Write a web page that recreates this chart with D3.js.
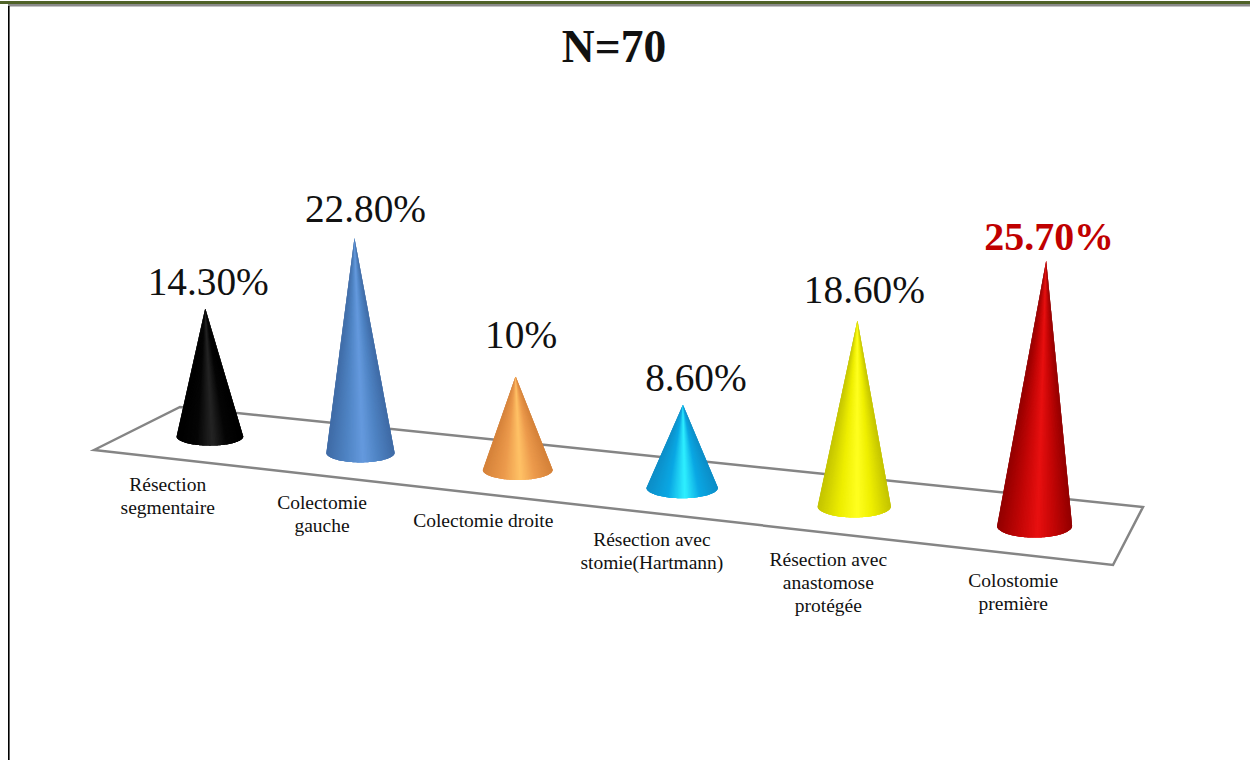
<!DOCTYPE html>
<html>
<head>
<meta charset="utf-8">
<script src="https://cdn.jsdelivr.net/npm/d3@7"></script>
<style>
html,body{margin:0;padding:0;background:#fff;overflow:hidden}
svg{display:block}
text{font-family:"Liberation Serif",serif}
</style>
</head>
<body>
<svg id="chart" width="1250" height="760"></svg>
<script>
const title = "N=70";
const categories = [
  ["Résection","segmentaire"],
  ["Colectomie","gauche"],
  ["Colectomie droite"],
  ["Résection avec","stomie(Hartmann)"],
  ["Résection avec","anastomose","protégée"],
  ["Colostomie","première"]
];
const values = [14.3, 22.8, 10, 8.6, 18.6, 25.7];
const valueLabels = ["14.30%","22.80%","10%","8.60%","18.60%","25.70%"];
const edgeColors = ["#000000","#3f6ba6","#d5823a","#0d8ec8","#c4c400","#930000"];
const bodyColors = ["#050505","#4f84c4","#ec9a4c","#0aa8e4","#eeee00","#c40606"];
const lightColors = ["#242424","#659ade","#ffc266","#2ff0ff","#ffff20","#e81010"];

const W = 1250, H = 760;
const svg = d3.select("#chart");

// Corners of the receding floor plane.
const floor = { fl:[94,450], bl:[180,407], br:[1143,507], fr:[1113,565] };

// Perspective foreshortening along the category axis.
const band = d3.scalePoint().domain(d3.range(categories.length)).range([0,1]).padding(0.5);
const persp = 1.145;
const along = i => { const u = band(i); return u / (u + persp * (1 - u)); };

const lerp = (a,b,t) => [a[0]+(b[0]-a[0])*t, a[1]+(b[1]-a[1])*t];
const midLeft = lerp(floor.fl, floor.bl, 0.5), midRight = lerp(floor.fr, floor.br, 0.5);

// Pixels per percentage point and tip lean change along the receding axis.
const unit = d3.scaleLinear().domain([0.07,0.225,0.38,0.55,0.72,0.9]).range([8.95,9.42,9.35,9.65,10,10.32]);
const lean = d3.scaleLinear().domain([0,0.225,0.45,0.72,1]).range([-4,-6,-0.5,3,16]);
const baseRx = d3.scaleLinear().domain([0,1]).range([33,38]);
const baseRy = d3.scaleLinear().domain([0,1]).range([9,12]);
const height = (v,t) => v * unit(t);

// Hand-placed offsets of the value labels above the tips.
const labelNudge = [[3,-26],[11,-29],[5.5,-41],[13,-27],[7,-30],[3,-24]];

// Page frame
svg.append("rect").attr("x",0).attr("y",1).attr("width",W).attr("height",3).attr("fill","#4f6228");
svg.append("rect").attr("x",8).attr("y",4).attr("width",W-8).attr("height",2.5).attr("fill","#8a8a8a");
svg.append("rect").attr("x",8).attr("y",6).attr("width",1.6).attr("height",H-6).attr("fill","#000");

svg.append("text").attr("x",614).attr("y",62).attr("text-anchor","middle")
  .attr("font-size",45.5).attr("font-weight","bold").attr("fill","#111").text(title);

// Floor outline
svg.append("path")
  .attr("d", d3.line()([floor.fl,floor.bl,floor.br,floor.fr]) + "Z")
  .attr("fill","#fff").attr("stroke","#858585").attr("stroke-width",2.5).attr("stroke-linejoin","miter");

const cones = values.map((v,i) => {
  const t = along(i);
  const c = lerp(midLeft, midRight, t);
  return { i, t, v, cx:c[0], cy:c[1], rx:baseRx(t), ry:baseRy(t),
           tx:c[0]+lean(t), ty:c[1]-height(v,t) };
});

// Each cone is a fan of wedges from the tip to the front arc of its base, so the
// highlight stripe converges at the tip. Wedges overlap the next few slots and are
// painted left to right, which keeps antialiased seams from showing.
const wedgeCount = 72, wedgeOverlap = 3;
const angle = d3.scaleLinear().domain([0,wedgeCount]).range([Math.PI,0]);
const coneGroups = svg.append("g").selectAll("g").data(cones).join("g");
coneGroups.each(function(d){
  const shade = d3.scaleLinear()
    .domain([-1,-0.4,0.08,0.5,1])
    .range([edgeColors[d.i],bodyColors[d.i],lightColors[d.i],bodyColors[d.i],edgeColors[d.i]])
    .interpolate(d3.interpolateRgb);
  const point = k => [d.cx + d.rx*Math.cos(angle(k)), d.cy + d.ry*Math.sin(angle(k))];
  d3.select(this).selectAll("path").data(d3.range(wedgeCount)).join("path")
    .attr("d", k => {
      const arc = d3.range(k, Math.min(k + wedgeOverlap, wedgeCount) + 1).map(point);
      return d3.line()([[d.tx,d.ty], ...arc]) + "Z";
    })
    .attr("fill", k => shade(Math.cos(angle(k+0.5))));
});

// Value labels
svg.append("g").selectAll("text").data(cones).join("text")
  .attr("x", d => d.tx + labelNudge[d.i][0])
  .attr("y", d => d.ty + labelNudge[d.i][1])
  .attr("dy","0.33em")
  .attr("text-anchor","middle")
  .attr("font-size", d => d.i === 5 ? 39.9 : 39.3)
  .attr("font-weight", d => d.i === 5 ? "bold" : "normal")
  .attr("fill", d => d.i === 5 ? "#c00000" : "#111")
  .text(d => valueLabels[d.i]);

// Category labels run parallel to the front edge of the floor
const catGroup = svg.append("g");
cones.forEach(d => {
  const p = lerp(floor.fl, floor.fr, d.t);
  const txt = catGroup.append("text").attr("text-anchor","middle").attr("font-size",19.5).attr("fill","#111");
  categories[d.i].forEach((line,k) => {
    txt.append("tspan").attr("x",p[0]-1-3*d.t).attr("y",p[1]+33+k*23).text(line);
  });
});
</script>
</body>
</html>
